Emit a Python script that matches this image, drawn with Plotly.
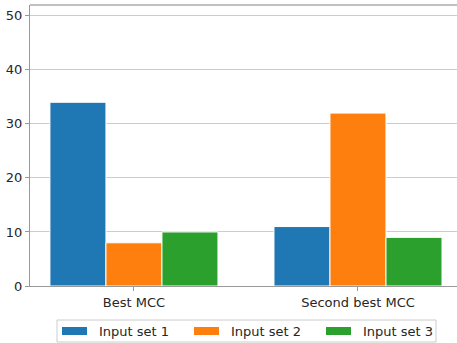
import plotly.graph_objects as go

categories = ["Best MCC", "Second best MCC"]
series_names = ["Input set 1", "Input set 2", "Input set 3"]
series_values = [
    [34, 11],
    [8, 32],
    [10, 9],
]
colors = ["#1f77b4", "#ff7f0e", "#2ca02c"]
y_ticks = [0, 10, 20, 30, 40, 50]

W, H = 457, 343
L, R, T, B = 30, 0, 5, 57
pw, ph = W - L - R, H - T - B


def px_x(p):
    return (p - L) / pw


def px_y(p):
    return (H - B - p) / ph


fig = go.Figure()
for name, vals, col in zip(series_names, series_values, colors):
    fig.add_trace(go.Bar(
        x=categories, y=vals, name=name,
        marker=dict(color=col, line=dict(color="white", width=1)),
    ))

font = dict(family="DejaVu Sans", size=13, color="#262626")
fig.update_layout(
    width=W, height=H,
    margin=dict(l=L, r=R, t=T, b=B, autoexpand=False),
    plot_bgcolor="white", paper_bgcolor="white",
    barmode="group", bargap=0.25, bargroupgap=0,
    font=font,
    showlegend=False,
    xaxis=dict(
        type="category", range=[-0.464, 1.442],
        showline=True, linecolor="#999999", linewidth=1,
        ticks="outside", ticklen=4, tickcolor="#999999",
        showgrid=False, zeroline=False,
    ),
    yaxis=dict(
        range=[0, 52], tickvals=y_ticks,
        showline=True, linecolor="#999999", linewidth=1,
        ticks="outside", ticklen=4, tickcolor="#999999",
        showgrid=True, gridcolor="#cccccc", gridwidth=1,
        zeroline=False,
    ),
)
# top border of the plotting area
fig.add_shape(type="line", xref="paper", yref="paper", x0=0, x1=1, y0=1, y1=1,
              line=dict(color="#c0c0c0", width=2))

# legend below the axes: framed box with wide colour patches
fig.add_shape(type="rect", xref="paper", yref="paper",
              x0=px_x(57), x1=px_x(436), y0=px_y(342), y1=px_y(320),
              line=dict(color="#cccccc", width=1), fillcolor="white", layer="above")
for i, (name, col) in enumerate(zip(series_names, colors)):
    x0 = 62 + 132 * i
    fig.add_shape(type="rect", xref="paper", yref="paper",
                  x0=px_x(x0), x1=px_x(x0 + 25), y0=px_y(335), y1=px_y(327),
                  line=dict(width=0), fillcolor=col, layer="above")
    fig.add_annotation(xref="paper", yref="paper", x=px_x(x0 + 35), y=px_y(331),
                       text=name, showarrow=False, xanchor="left", yanchor="middle",
                       font=font)

fig.write_html("out.html")
